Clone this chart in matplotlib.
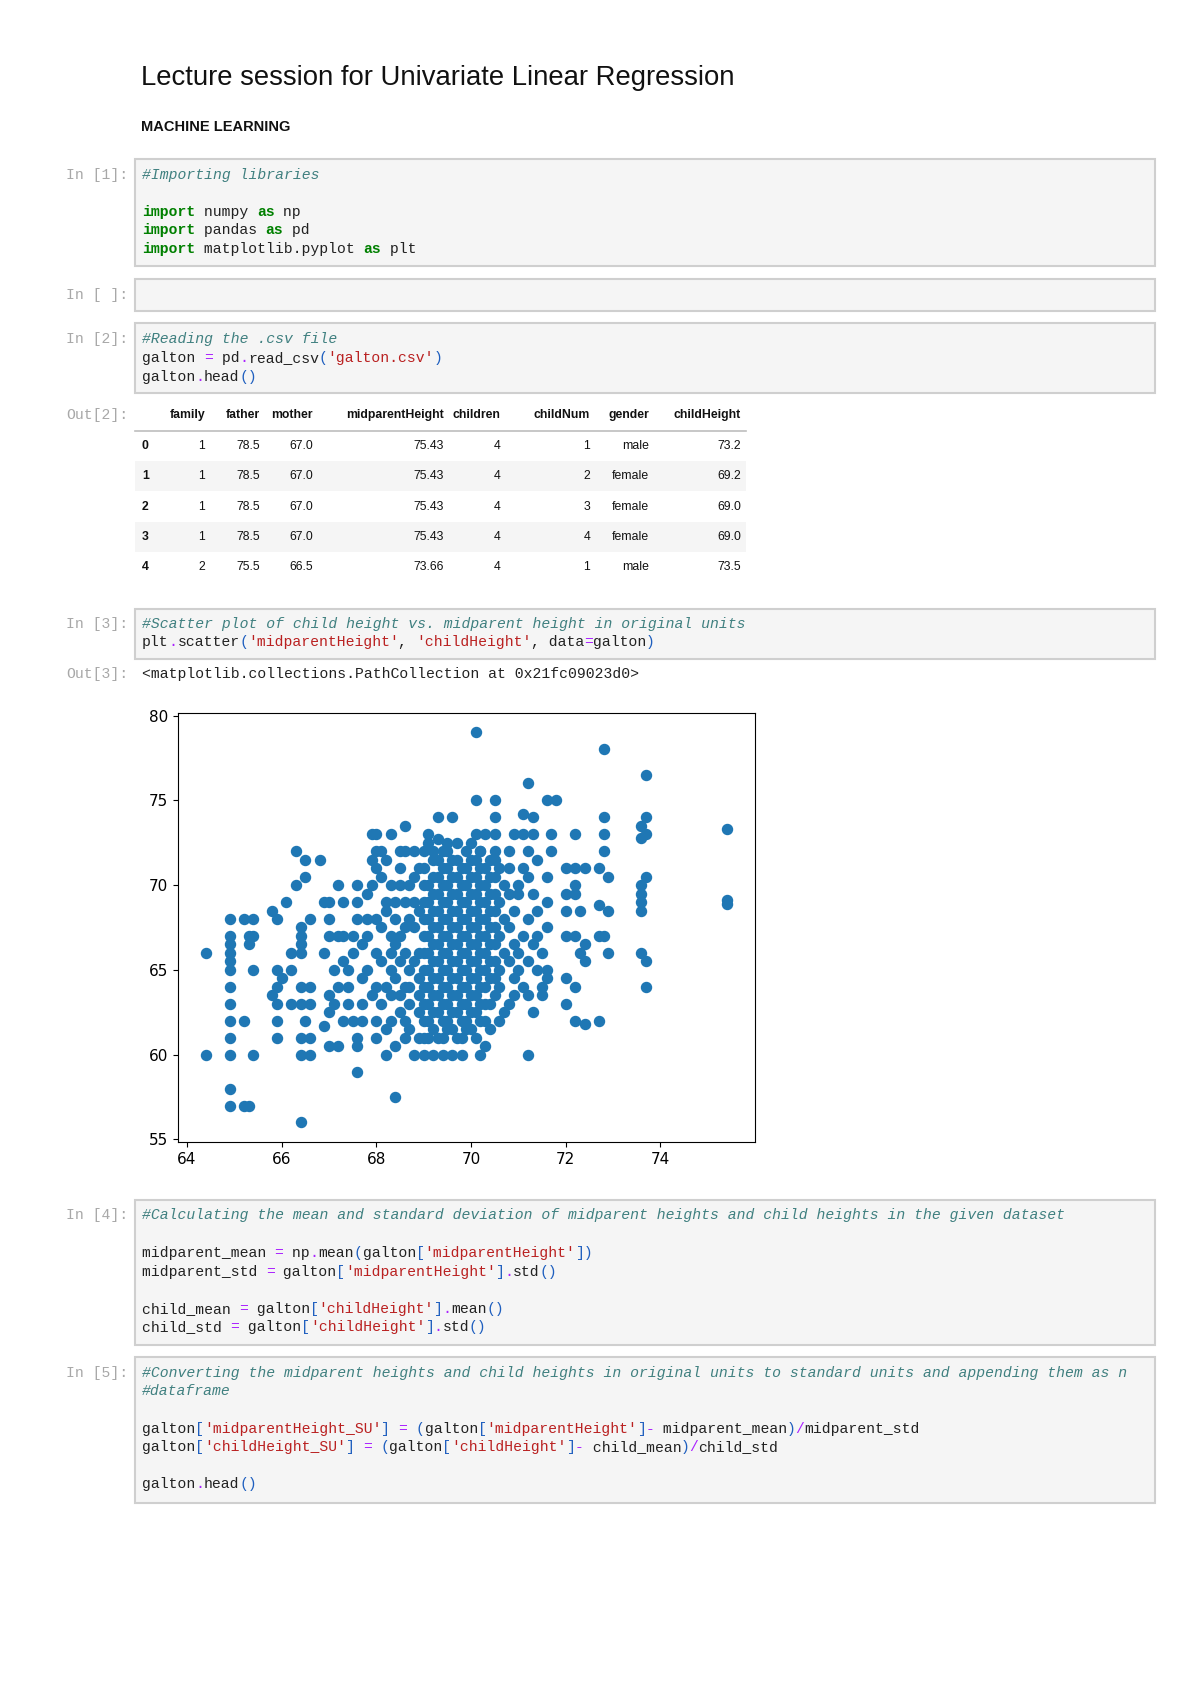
import matplotlib
matplotlib.use("Agg")
import matplotlib.pyplot as plt
from matplotlib.patches import Rectangle

W, H = 1200, 1698

# ---------------- data ----------------
table_columns = ["family", "father", "mother", "midparentHeight", "children",
                 "childNum", "gender", "childHeight"]
table_index = ["0", "1", "2", "3", "4"]
table_rows = [
    ["1", "78.5", "67.0", "75.43", "4", "1", "male", "73.2"],
    ["1", "78.5", "67.0", "75.43", "4", "2", "female", "69.2"],
    ["1", "78.5", "67.0", "75.43", "4", "3", "female", "69.0"],
    ["1", "78.5", "67.0", "75.43", "4", "4", "female", "69.0"],
    ["2", "75.5", "66.5", "73.66", "4", "1", "male", "73.5"],
]

x_ticks = [64, 66, 68, 70, 72, 74]
y_ticks = [55, 60, 65, 70, 75, 80]

# scatter points: (midparentHeight, childHeight)
left_points = [
    (64.4, 66), (64.4, 60),
    (64.9, 68), (64.9, 67), (64.9, 66.5), (64.9, 66), (64.9, 65.5), (64.9, 65), (64.9, 64),
    (64.9, 63), (64.9, 62), (64.9, 61), (64.9, 60), (64.9, 58), (64.9, 57),
    (65.2, 68), (65.4, 68), (65.3, 67), (65.4, 67), (65.3, 66.5), (65.2, 62), (65.4, 65),
    (65.4, 60), (65.3, 57), (65.2, 57),
    (65.8, 68.5), (65.9, 68), (65.8, 63.5), (65.9, 65), (66.0, 64.5), (65.9, 64), (65.9, 63),
    (65.9, 62), (65.9, 61), (66.1, 69), (66.3, 70), (66.3, 72),
    (66.2, 66), (66.2, 65), (66.2, 63), (66.4, 67.5), (66.4, 67), (66.4, 66.5), (66.4, 66),
    (66.4, 64), (66.4, 63), (66.4, 61), (66.4, 60), (66.5, 71.5), (66.5, 70.5), (66.6, 68),
    (66.5, 62), (66.6, 61), (66.6, 60), (66.6, 64), (66.6, 63), (66.4, 56),
    (66.8, 71.5), (66.9, 69), (67.0, 69), (66.9, 66), (67.0, 68), (67.0, 63.5), (67.0, 62.5),
    (66.9, 61.7), (67.0, 60.5), (67.2, 60.5), (67.1, 63), (67.2, 64), (67.2, 67), (67.2, 70),
    (67.3, 69), (67.3, 62), (67.4, 65), (67.4, 63), (67.5, 62), (67.5, 67), (67.6, 68),
    (67.6, 69), (67.6, 61), (67.6, 60.5), (67.6, 59), (67.7, 62), (67.7, 63), (67.7, 64.5),
    (67.8, 69.5), (67.8, 67), (67.8, 65), (67.4, 64), (67.5, 66), (67.7, 66.5), (67.3, 67),
    (67.9, 73), (68.0, 73), (68.0, 72), (68.0, 71), (67.9, 70), (68.0, 68), (68.0, 66),
    (68.0, 64), (68.0, 62), (68.0, 61), (68.1, 63), (68.2, 60), (68.2, 69), (68.3, 67),
    (68.3, 65), (68.3, 73), (68.4, 60.5), (68.4, 57.5), (68.3, 62), (68.1, 70.5), (68.2, 71.5),
    (68.1, 65.5), (68.2, 64), (68.3, 66), (68.1, 67.5), (68.2, 68.5),
    (68.5, 72), (68.5, 71), (68.6, 73.5), (68.6, 72), (68.7, 70), (68.6, 69), (68.7, 68),
    (68.5, 67), (68.6, 66), (68.7, 65), (68.6, 64), (68.7, 63), (68.6, 62), (68.6, 61),
    (68.8, 60), (68.8, 72), (68.9, 71), (68.8, 67.5), (68.9, 66), (68.9, 64.5), (68.9, 62.5),
    (68.5, 65.5), (68.5, 63.5), (68.5, 70), (68.4, 69), (68.4, 68), (68.4, 66.5), (68.4, 64.5),
    (68.5, 62.5), (68.7, 61.5), (68.8, 69), (68.8, 70.5), (68.9, 68.5), (68.9, 63.5), (68.9, 61),
    (67.0, 67), (67.1, 65), (67.3, 65.5), (67.6, 70), (67.9, 71.5), (68.1, 72), (68.3, 70),
    (68.3, 63.5), (68.2, 61.5), (67.9, 63.5), (67.8, 68), (68.6, 67.5), (68.7, 64), (68.8, 65.5),
]

center_points = [
    (69.0, 72), (69.2, 72), (69.4, 72), (69.1, 73), (69.3, 72.7), (69.0, 60), (69.2, 60),
    (69.4, 60), (69.6, 60), (69.8, 60), (69.0, 71), (69.1, 70), (69.0, 69), (69.1, 68),
    (69.0, 67), (69.1, 66), (69.0, 65), (69.1, 64), (69.0, 63), (69.1, 62), (69.0, 61),
    (69.2, 71.5), (69.3, 70.5), (69.2, 69.5), (69.3, 68.5), (69.2, 67.5), (69.3, 66.5),
    (69.2, 65.5), (69.3, 64.5), (69.2, 63.5), (69.3, 62.5), (69.2, 61.5), (69.3, 61),
    (69.4, 71), (69.5, 70), (69.4, 69), (69.5, 68), (69.4, 67), (69.5, 66), (69.4, 65),
    (69.5, 64), (69.4, 63), (69.5, 62), (69.4, 61), (69.5, 72.5),
    (69.6, 71.5), (69.7, 70.5), (69.6, 69.5), (69.7, 68.5), (69.6, 67.5), (69.7, 66.5),
    (69.6, 65.5), (69.7, 64.5), (69.6, 63.5), (69.7, 62.5), (69.6, 61.5), (69.7, 61),
    (69.8, 71), (69.9, 70), (69.8, 69), (69.9, 68), (69.8, 67), (69.9, 66), (69.8, 65),
    (69.9, 64), (69.8, 63), (69.9, 62), (69.8, 61), (69.9, 72),
    (70.0, 71.5), (70.1, 70.5), (70.0, 69.5), (70.1, 68.5), (70.0, 67.5), (70.1, 66.5),
    (70.0, 65.5), (70.1, 64.5), (70.0, 63.5), (70.1, 62.5), (70.0, 61.5), (70.1, 61),
    (70.2, 71), (70.3, 70), (70.2, 69), (70.3, 68), (70.2, 67), (70.3, 66), (70.2, 65),
    (70.3, 64), (70.2, 63), (70.3, 62), (70.2, 72),
    (70.4, 71.5), (70.5, 70.5), (70.4, 69.5), (70.5, 68.5), (70.4, 67.5), (70.5, 66.5),
    (70.4, 65.5), (70.5, 64.5), (70.4, 63), (70.4, 61.5), (70.6, 62), (70.6, 64),
    (70.6, 71), (70.7, 70), (70.6, 69), (70.7, 68), (70.6, 67), (70.7, 66), (70.6, 65),
    (70.8, 63), (70.8, 72), (70.8, 69.5), (70.9, 68.5), (70.8, 67.5), (70.9, 66.5),
    (70.8, 65.5), (70.9, 64.5), (70.8, 71),
    (69.0, 70), (69.1, 69), (69.0, 68), (69.1, 67), (69.0, 66), (69.1, 65), (69.0, 64),
    (69.1, 63), (69.0, 62), (69.1, 61), (69.3, 71.5), (69.2, 70.5), (69.3, 69.5), (69.2, 68.5),
    (69.3, 67.5), (69.2, 66.5), (69.3, 65.5), (69.2, 64.5), (69.3, 63.5), (69.2, 62.5),
    (69.5, 71), (69.4, 70), (69.5, 69), (69.4, 68), (69.5, 67), (69.4, 66), (69.5, 65),
    (69.4, 64), (69.5, 63), (69.4, 62), (69.7, 71.5), (69.6, 70.5), (69.7, 69.5),
    (69.6, 68.5), (69.7, 67.5), (69.6, 66.5), (69.7, 65.5), (69.6, 64.5), (69.7, 63.5),
    (69.6, 62.5), (69.9, 71), (69.8, 70), (69.9, 69), (69.8, 68), (69.9, 67), (69.8, 66),
    (69.9, 65), (69.8, 64), (69.9, 63), (69.8, 62), (70.1, 71.5), (70.0, 70.5), (70.1, 69.5),
    (70.0, 68.5), (70.1, 67.5), (70.0, 66.5), (70.1, 65.5), (70.0, 64.5), (70.1, 63.5),
    (70.0, 62.5), (70.3, 71), (70.2, 70), (70.3, 69), (70.2, 68), (70.3, 67), (70.2, 66),
    (70.3, 65), (70.2, 64), (70.3, 63), (70.2, 62), (70.5, 71.5), (70.4, 70.5), (70.5, 69.5),
    (70.4, 68.5), (70.5, 67.5), (70.4, 66.5), (70.5, 65.5), (70.4, 64.5), (70.5, 63.5),
    (69.5, 61.5), (69.9, 61.5), (70.3, 60.5), (69.1, 72.5), (69.7, 72.5), (70.0, 72.5),
]

right_points = [
    (70.1, 79), (72.8, 78), (73.7, 76.5), (71.2, 76), (70.1, 75), (70.5, 75), (71.6, 75),
    (71.8, 75), (69.3, 74), (69.6, 74), (70.5, 74), (71.1, 74.2), (71.3, 74), (72.8, 74),
    (73.7, 74), (73.6, 73.5), (73.7, 73), (73.6, 72.8), (75.4, 73.3),
    (70.1, 73), (70.3, 73), (70.5, 73), (70.9, 73), (71.1, 73), (71.3, 73), (71.7, 73),
    (72.2, 73), (72.8, 73),
    (69.5, 72), (70.2, 72), (70.5, 72), (71.2, 72), (71.7, 72), (72.8, 72),
    (71.4, 71.5), (72.0, 71), (72.2, 71), (72.4, 71), (72.7, 71), (72.9, 70.5), (71.6, 70.5),
    (71.2, 70.5), (72.2, 70), (73.7, 70.5), (73.6, 70),
    (71.0, 69.5), (71.6, 69), (72.0, 69.5), (72.2, 69.5), (72.0, 68.5), (72.3, 68.5),
    (72.7, 68.8), (72.9, 68.5), (73.6, 69.5), (73.6, 69), (73.6, 68.5), (75.4, 69.1), (75.4, 68.9),
    (71.2, 68), (71.6, 67.5), (72.0, 67), (72.2, 67), (72.4, 66.5), (72.7, 67), (72.8, 67),
    (72.9, 66), (72.3, 66), (72.4, 65.5), (73.6, 66), (73.7, 65.5), (73.7, 64),
    (71.1, 64), (71.2, 63.5), (71.4, 65), (71.6, 65), (71.6, 64.5), (72.0, 64.5), (72.2, 64),
    (72.0, 63), (72.2, 62), (72.4, 61.8), (72.7, 62), (71.2, 60), (71.3, 62.5),
    (70.2, 60), (71.0, 66), (71.1, 67), (71.0, 65), (71.3, 66.5), (71.4, 68.5), (71.1, 71),
    (71.5, 66), (71.5, 63.5), (70.7, 62.5), (70.9, 63.5), (71.0, 70), (71.3, 69.5),
    (71.4, 67), (71.5, 64), (71.2, 65.5),
]

# ---------------- helpers ----------------
fig = plt.figure(figsize=(W / 100, H / 100), dpi=100)
fig.patch.set_facecolor("white")

MONO = "Liberation Mono"
CODE_PT = 10.6
CHAR_W = CODE_PT * 0.6 * 100 / 72


def fx(x):
    return x / W


def fy(y):
    return 1 - y / H


def box(x0, y0, x1, y1):
    fig.patches.append(Rectangle((fx(x0), fy(y1)), fx(x1) - fx(x0), fy(y0) - fy(y1),
                                 transform=fig.transFigure, facecolor="#f5f5f5",
                                 edgecolor="#cfcfcf", linewidth=1.5))


def prompt(text, y):
    fig.text(fx(128), fy(y), text, family=MONO, fontsize=CODE_PT, color="#a8a8a8",
             ha="right", va="center")


C_KW, C_CM, C_ST, C_OP, C_BR, C_TX = "#008000", "#408080", "#BA2121", "#AA22FF", "#1f5fbf", "#222222"


def code(y, tokens, x0=142):
    x = x0
    for t in tokens:
        if isinstance(t, str):
            t = (t, C_TX)
        txt, col = t[0], t[1]
        kw = {}
        if col == C_KW:
            kw["weight"] = "bold"
        if col == C_CM:
            kw["style"] = "italic"
        fig.text(fx(x), fy(y), txt, family=MONO, fontsize=CODE_PT, color=col,
                 ha="left", va="center", clip_on=False, **kw)
        x += len(txt) * CHAR_W


# ---------------- header ----------------
fig.text(fx(141), fy(78), "Lecture session for Univariate Linear Regression",
         fontsize=19.8, family="Liberation Sans", va="center", color="#111111")
fig.text(fx(141), fy(127), "MACHINE LEARNING", fontsize=10.5, weight="bold",
         family="Liberation Sans", va="center", color="#111111")

# cell 1
box(135, 159, 1155, 266)
prompt("In [1]:", 175)
code(175, [("#Importing libraries", C_CM)])
code(212, [("import", C_KW), " numpy ", ("as", C_KW), " np"])
code(230, [("import", C_KW), " pandas ", ("as", C_KW), " pd"])
code(249, [("import", C_KW), " matplotlib.pyplot ", ("as", C_KW), " plt"])

# empty cell
box(135, 279, 1155, 311)
prompt("In [ ]:", 295)

# cell 2
box(135, 323, 1155, 393)
prompt("In [2]:", 339)
code(339, [("#Reading the .csv file", C_CM)])
code(358, ["galton ", ("=", C_OP), " pd", (".", C_OP), "read_csv", ("(", C_BR),
           ("'galton.csv'", C_ST), (")", C_BR)])
code(377, ["galton", (".", C_OP), "head", ("()", C_BR)])

# table output
prompt("Out[2]:", 415)
col_right = [205, 260, 313, 444, 500, 590, 649, 741]
for cx, name in zip(col_right, table_columns):
    fig.text(fx(cx), fy(415), name, fontsize=8.8, weight="bold", family="Liberation Sans",
             ha="right", va="center", color="#111111")
fig.lines.append(plt.Line2D([fx(135), fx(746)], [fy(431), fy(431)], transform=fig.transFigure,
                            color="#bdbdbd", lw=1.2))
row_y = [446, 476, 507, 537, 567]
for i, (idx, vals) in enumerate(zip(table_index, table_rows)):
    y = row_y[i]
    if i % 2 == 1:
        fig.patches.append(Rectangle((fx(135), fy(y + 15)), fx(746) - fx(135), fy(y - 15) - fy(y + 15),
                                     transform=fig.transFigure, facecolor="#f5f5f5", edgecolor="none"))
    fig.text(fx(142), fy(y), idx, fontsize=8.8, weight="bold", family="Liberation Sans",
             ha="left", va="center", color="#111111")
    for cx, v in zip(col_right, vals):
        fig.text(fx(cx), fy(y), v, fontsize=8.8, family="Liberation Sans",
                 ha="right", va="center", color="#111111")

# cell 3
box(135, 609, 1155, 659)
prompt("In [3]:", 624)
code(624, [("#Scatter plot of child height vs. midparent height in original units", C_CM)])
code(642, ["plt", (".", C_OP), "scatter", ("(", C_BR), ("'midparentHeight'", C_ST), ", ",
           ("'childHeight'", C_ST), ", data", ("=", C_OP), "galton", (")", C_BR)])
prompt("Out[3]:", 674)
code(674, ["<matplotlib.collections.PathCollection at 0x21fc09023d0>"])

# scatter axes
ax = fig.add_axes([fx(178), fy(1142), fx(755) - fx(178), fy(713) - fy(1142)])
pts = left_points + center_points + right_points
xs = [p[0] for p in pts]
ys = [p[1] for p in pts]
ax.scatter(xs, ys, s=52, color="#1f77b4")
ax.set_xlim(63.81, 76.0)
ax.set_ylim(54.85, 80.15)
ax.set_xticks(x_ticks)
ax.set_yticks(y_ticks)
ax.tick_params(labelsize=11)

# cell 4
box(135, 1200, 1155, 1345)
prompt("In [4]:", 1215)
code(1215, [("#Calculating the mean and standard deviation of midparent heights and child heights in the given dataset", C_CM)])
code(1253, ["midparent_mean ", ("=", C_OP), " np", (".", C_OP), "mean", ("(", C_BR), "galton",
            ("[", C_BR), ("'midparentHeight'", C_ST), ("])", C_BR)])
code(1272, ["midparent_std ", ("=", C_OP), " galton", ("[", C_BR), ("'midparentHeight'", C_ST),
            ("]", C_BR), (".", C_OP), "std", ("()", C_BR)])
code(1309, ["child_mean ", ("=", C_OP), " galton", ("[", C_BR), ("'childHeight'", C_ST),
            ("]", C_BR), (".", C_OP), "mean", ("()", C_BR)])
code(1327, ["child_std ", ("=", C_OP), " galton", ("[", C_BR), ("'childHeight'", C_ST),
            ("]", C_BR), (".", C_OP), "std", ("()", C_BR)])

# cell 5
box(135, 1357, 1155, 1503)
prompt("In [5]:", 1373)
code(1373, [("#Converting the midparent heights and child heights in original units to standard units and appending them as n", C_CM)])
code(1391, [("#dataframe", C_CM)])
code(1429, ["galton", ("[", C_BR), ("'midparentHeight_SU'", C_ST), ("]", C_BR), " ", ("=", C_OP), " ",
            ("(", C_BR), "galton", ("[", C_BR), ("'midparentHeight'", C_ST), ("]", C_BR), ("-", C_OP),
            " midparent_mean", (")", C_BR), ("/", C_OP), "midparent_std"])
code(1447, ["galton", ("[", C_BR), ("'childHeight_SU'", C_ST), ("]", C_BR), " ", ("=", C_OP), " ",
            ("(", C_BR), "galton", ("[", C_BR), ("'childHeight'", C_ST), ("]", C_BR), ("-", C_OP),
            " child_mean", (")", C_BR), ("/", C_OP), "child_std"])
code(1484, ["galton", (".", C_OP), "head", ("()", C_BR)])

fig.savefig("out.png", dpi=100)
